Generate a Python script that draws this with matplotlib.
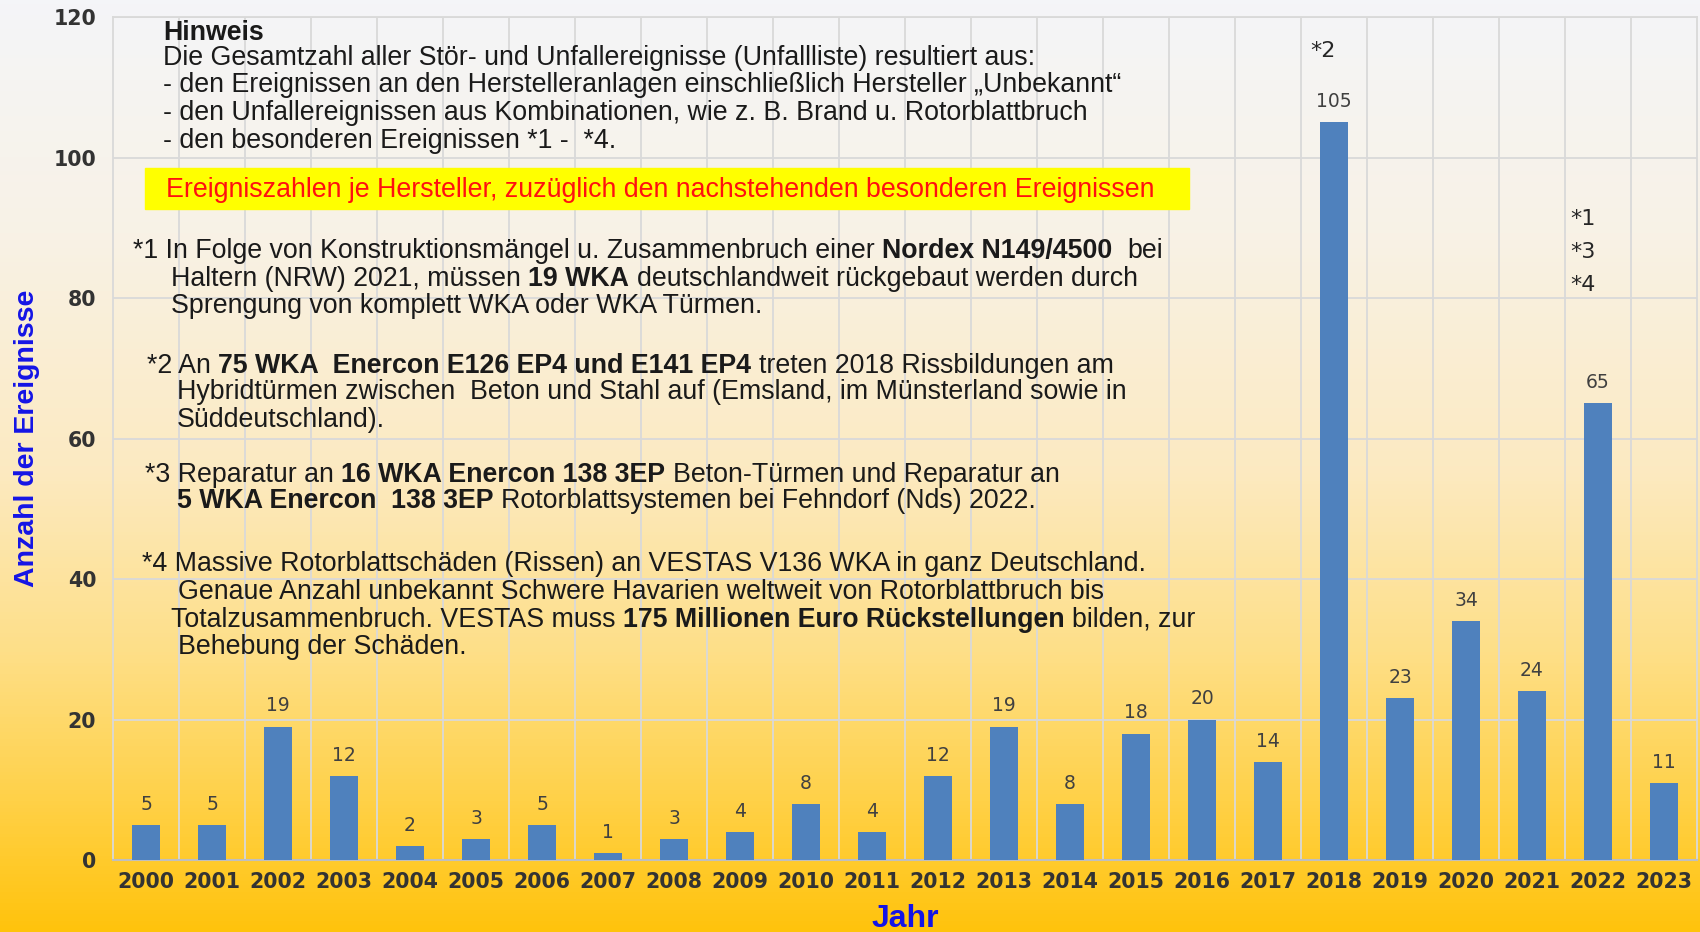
import numpy as np
import matplotlib
matplotlib.use('Agg')
import matplotlib.pyplot as plt
from matplotlib.colors import LinearSegmentedColormap

years = [str(y) for y in range(2000, 2024)]
events = [5, 5, 19, 12, 2, 3, 5, 1, 3, 4, 8, 4, 12, 19, 8, 18, 20, 14, 105, 23, 34, 24, 65, 11]

hinweis = ['Die Gesamtzahl aller Stör- und Unfallereignisse (Unfallliste) resultiert aus:',
           '- den Ereignissen an den Herstelleranlagen einschließlich Hersteller „Unbekannt“',
           '- den Unfallereignissen aus Kombinationen, wie z. B. Brand u. Rotorblattbruch',
           '- den besonderen Ereignissen *1 -  *4.']

# (x px, y px, [(text, bold), ...]) for each note line
notes = [
    (133, 251, [('*1 In Folge von Konstruktionsmängel u. Zusammenbruch einer', False),
                ('Nordex N149/4500', True), (' bei', False)]),
    (171, 279, [('Haltern (NRW) 2021, müssen', False), ('19 WKA', True),
                ('deutschlandweit rückgebaut werden durch', False)]),
    (171, 306, [('Sprengung von komplett WKA oder WKA Türmen.', False)]),
    (147, 366, [('*2 An', False), ('75 WKA  Enercon E126 EP4 und E141 EP4', True),
                ('treten 2018 Rissbildungen am', False)]),
    (177, 392, [('Hybridtürmen zwischen  Beton und Stahl auf (Emsland, im Münsterland sowie in', False)]),
    (177, 420, [('Süddeutschland).', False)]),
    (145, 475, [('*3 Reparatur an', False), ('16 WKA Enercon 138 3EP', True),
                ('Beton-Türmen und Reparatur an', False)]),
    (177, 501, [('5 WKA Enercon  138 3EP', True), ('Rotorblattsystemen bei Fehndorf (Nds) 2022.', False)]),
    (142, 564, [('*4 Massive Rotorblattschäden (Rissen) an VESTAS V136 WKA in ganz Deutschland.', False)]),
    (178, 592, [('Genaue Anzahl unbekannt Schwere Havarien weltweit von Rotorblattbruch bis', False)]),
    (171, 620, [('Totalzusammenbruch. VESTAS muss', False), ('175 Millionen Euro Rückstellungen', True),
                ('bilden, zur', False)]),
    (178, 647, [('Behebung der Schäden.', False)]),
]

W, H = 1700, 932
fig = plt.figure(figsize=(17, 9.32), dpi=100)

# background gradient
bg = fig.add_axes([0, 0, 1, 1], zorder=-10)
cmap = LinearSegmentedColormap.from_list('bg', [
    (0.0, '#F4F5F8'), (0.25, '#F8F2E6'), (0.5, '#FCEAC2'),
    (0.7, '#FEDF88'), (0.85, '#FFD24C'), (1.0, '#FFC30C')])
bg.imshow(np.linspace(0, 1, 256).reshape(-1, 1), aspect='auto', cmap=cmap,
          extent=[0, 1, 0, 1])
bg.axis('off')

ax = fig.add_axes([113 / W, 1 - 860 / H, (1697 - 113) / W, (860 - 17) / H])
ax.set_facecolor('none')

x = np.arange(len(years))
bars = ax.bar(x, events, width=0.42, color='#4F81BD', zorder=3)
ax.bar_label(bars, padding=8, fontsize=13.5, color='#404040', family='DejaVu Sans')

ax.set_xlim(-0.5, len(years) - 0.5)
ax.set_ylim(0, 120)
ax.set_yticks(range(0, 121, 20))
ax.set_xticks(x)
ax.set_xticklabels(years)
ax.set_xticks(x[:-1] + 0.5, minor=True)
ax.grid(axis='y', color='#D9D9D9', linewidth=1.3, zorder=0)
ax.grid(axis='x', which='minor', color='#D9D9D9', linewidth=1.3, zorder=0)
ax.grid(axis='x', which='major', visible=False)
ax.tick_params(which='both', length=0)
ax.tick_params(axis='x', pad=9)
ax.tick_params(axis='y', pad=12)
for lab in ax.get_xticklabels() + ax.get_yticklabels():
    lab.set_fontfamily('DejaVu Sans')
    lab.set_fontweight('bold')
    lab.set_fontsize(14.8)
    lab.set_color('#333333')
for s in ['left', 'right', 'top']:
    ax.spines[s].set_color('#D9D9D9')
    ax.spines[s].set_linewidth(1.3)
ax.spines['bottom'].set_color('#BFBFBF')
ax.spines['bottom'].set_linewidth(1.5)

# special event markers
mk = dict(family='DejaVu Sans', fontsize=16, color='#262626', ha='left', va='center')
ax.text(years.index('2018') - 0.36, 115.1, '*2', **mk)
for lbl, yv in zip(['*1', '*3', '*4'], [91.2, 86.6, 81.9]):
    ax.text(years.index('2022') - 0.42, yv, lbl, **mk)

fig.text(27 / W, 1 - 438 / H, 'Anzahl der Ereignisse', rotation=90, ha='center', va='center',
         fontsize=20.5, fontweight='bold', color='#1414E6', family='Liberation Sans')
fig.text(905 / W, 1 - 919 / H, 'Jahr', ha='center', va='center',
         fontsize=23, fontweight='bold', color='#1414E6', family='Liberation Sans')

fs = 19.3
txt = dict(family='Liberation Sans', color='#1A1A1A', fontsize=fs)
fig.text(163 / W, 1 - 33 / H, 'Hinweis', va='center', fontweight='bold', **txt)
for i, line in enumerate(hinweis):
    fig.text(163 / W, 1 - (58 + i * 27.5) / H, line, va='center', **txt)

fig.patches.append(plt.Rectangle((145 / W, 1 - 209 / H), (1189 - 145) / W, 41 / H,
                                 transform=fig.transFigure, color='#FFFF00', zorder=1))
fig.text(166 / W, 1 - 190 / H, 'Ereigniszahlen je Hersteller, zuzüglich den nachstehenden besonderen Ereignissen',
         va='center', family='Liberation Sans', fontsize=fs, color='#FF1010', zorder=2)

space = 0.278 * fs
for px, py, parts in notes:
    prev = fig.text(px / W, 1 - (py + 13) / H, parts[0][0].strip(), va='bottom',
                    fontweight='bold' if parts[0][1] else 'normal', **txt)
    for t, b in parts[1:]:
        gap = space * 2 if t.startswith(' ') else space
        prev = ax.annotate(t.strip(), xy=(1, 0), xycoords=prev, xytext=(gap, 0),
                           textcoords='offset points', va='bottom', ha='left',
                           fontweight='bold' if b else 'normal', annotation_clip=False, **txt)

plt.savefig('out.png', dpi=100)
